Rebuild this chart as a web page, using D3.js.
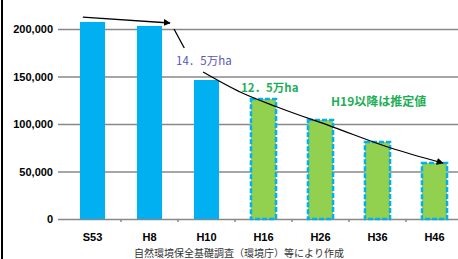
<!DOCTYPE html>
<html>
<head>
<meta charset="utf-8">
<script src="https://cdn.jsdelivr.net/npm/d3@7"></script>
<style>
  body { margin: 0; background: #fff; }
  svg { display: block; }
</style>
</head>
<body>
<svg id="chart" width="458" height="259"></svg>
<script>
const categories = ["S53", "H8", "H10", "H16", "H26", "H36", "H46"];
const values = [207400, 203200, 146300, 127400, 105300, 82100, 60000];
const estimated = [false, false, false, true, true, true, true];
const yTicks = [0, 50000, 100000, 150000, 200000];

// annotation paths as [band offset from first bar, value]
const arrowTop = [[-0.17, 212600], [1.36, 206300]];
const dropLine = [[1.43, 200000], [1.61, 180000]];
const trendLine = [[1.94, 154700], [2.59, 133700], [3.24, 117900], [4.22, 96800], [5.22, 75000], [6.15, 58900]];

const svg = d3.select("svg#chart");

const x = d3.scaleBand().domain(categories).range([64, 463])
  .paddingInner(0.56).paddingOuter(0.28);
const y = d3.scaleLinear().domain([0, 200000]).range([219, 29]);

const fmt = d3.format(",");
const px = (i) => x(categories[0]) + x.bandwidth() / 2 + i * x.step();

// left frame line
svg.append("line")
  .attr("x1", 2).attr("x2", 2).attr("y1", 0).attr("y2", 259)
  .attr("stroke", "#000").attr("stroke-width", 2);

// gridlines + y labels
const yAxis = svg.append("g")
  .attr("transform", "translate(58,0)")
  .call(d3.axisLeft(y).tickValues(yTicks).tickSize(-400).tickSizeOuter(0).tickPadding(5).tickFormat(fmt));
yAxis.select(".domain").remove();
yAxis.selectAll(".tick line").attr("stroke", "#888").attr("stroke-width", 1.5);
yAxis.selectAll(".tick text")
  .attr("fill", "#000")
  .style("font", "bold 11px 'Liberation Sans', Arial, sans-serif");

// x tick marks at band boundaries
svg.append("g").selectAll("line")
  .data(d3.range(1, categories.length))
  .join("line")
  .attr("x1", (i) => x.range()[0] + i * x.step())
  .attr("x2", (i) => x.range()[0] + i * x.step())
  .attr("y1", y(0)).attr("y2", y(0) + 3)
  .attr("stroke", "#888").attr("stroke-width", 1.5);

// bars
svg.append("g").selectAll("rect")
  .data(categories)
  .join("rect")
  .attr("x", (d) => x(d))
  .attr("width", x.bandwidth())
  .attr("y", (d, i) => y(values[i]) + (estimated[i] ? 1 : 0))
  .attr("height", (d, i) => y(0) - y(values[i]) - (estimated[i] ? 1 : 0))
  .attr("fill", (d, i) => (estimated[i] ? "#92d050" : "#00b0f0"))
  .attr("stroke", (d, i) => (estimated[i] ? "#00b0f0" : "none"))
  .attr("stroke-width", 2.5)
  .attr("stroke-dasharray", "5,2");

// x labels
svg.append("g").selectAll("text")
  .data(categories)
  .join("text")
  .attr("x", (d) => x(d) + x.bandwidth() / 2)
  .attr("y", 241)
  .attr("text-anchor", "middle")
  .style("font", "bold 11px 'Liberation Sans', Arial, sans-serif")
  .text((d) => d);

// arrows
svg.append("defs").append("marker")
  .attr("id", "head")
  .attr("viewBox", "0 0 10 10")
  .attr("refX", 9).attr("refY", 5)
  .attr("markerWidth", 7).attr("markerHeight", 7)
  .attr("markerUnits", "userSpaceOnUse")
  .attr("orient", "auto")
  .append("path").attr("d", "M0,0L10,5L0,10Z").attr("fill", "#000");

const line = d3.line().x((d) => px(d[0])).y((d) => y(d[1]));

svg.append("path").attr("d", line(arrowTop))
  .attr("fill", "none").attr("stroke", "#000").attr("stroke-width", 1.3)
  .attr("marker-end", "url(#head)");
svg.append("path").attr("d", line(dropLine))
  .attr("fill", "none").attr("stroke", "#000").attr("stroke-width", 1.3);
svg.append("path").attr("d", line.curve(d3.curveMonotoneX)(trendLine))
  .attr("fill", "none").attr("stroke", "#000").attr("stroke-width", 1.3)
  .attr("marker-end", "url(#head)");

// annotation texts
const jp = "'Noto Sans CJK JP', sans-serif";
svg.append("text").attr("x", 176).attr("y", 65)
  .attr("fill", "#5a57b0")
  .style("font", `11.5px ${jp}`)
  .text("14．5万ha");
svg.append("text").attr("x", 241).attr("y", 92)
  .attr("fill", "#1fae57")
  .style("font", `bold 11.5px ${jp}`)
  .text("12．5万ha");
svg.append("text").attr("x", 331).attr("y", 106)
  .attr("fill", "#1fae57")
  .style("font", `bold 12px ${jp}`)
  .text("H19以降は推定値");

// source caption
svg.append("text").attr("x", 239).attr("y", 257)
  .attr("text-anchor", "middle")
  .attr("fill", "#333")
  .style("font", `10px ${jp}`)
  .text("自然環境保全基礎調査（環境庁）等により作成");
</script>
</body>
</html>
